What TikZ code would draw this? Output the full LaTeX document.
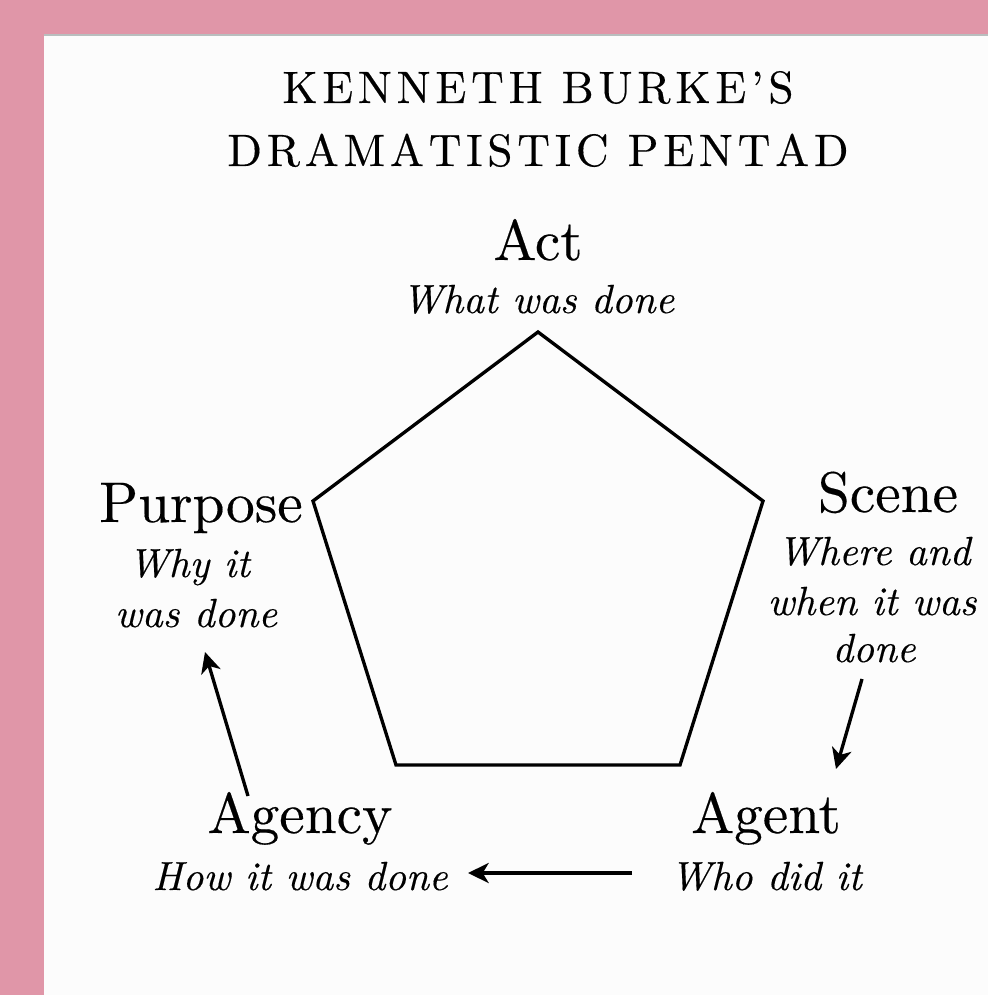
\documentclass[tikz,border=0pt]{standalone}
\usepackage{fontspec}
\setmainfont{lmroman10}[Extension=.otf,UprightFont=*-regular,ItalicFont=*-italic,BoldFont=*-bold,BoldItalicFont=*-bolditalic,FakeBold=0.3]
\usetikzlibrary{arrows.meta}
\definecolor{pinkbg}{RGB}{224,150,168}
\definecolor{panel}{RGB}{252,252,252}
\definecolor{edgegray}{RGB}{185,190,190}
\makeatletter
\newcommand\spacedword[1]{\@tfor\sw@c:=#1\do{\sw@c\kern0.105em}\kern-0.105em}
\makeatother
\begin{document}
\begin{tikzpicture}[x=0.75pt,y=-0.75pt,
  lab/.style={anchor=base,inner sep=0pt,font=\fontsize{43pt}{50pt}\selectfont},
  sub/.style={anchor=base,inner sep=0pt,font=\fontsize{30.5pt}{36pt}\selectfont\itshape},
  ttl/.style={anchor=base,inner sep=0pt,font=\fontsize{34pt}{40pt}\selectfont},
  edge/.style={line width=2.5pt,line join=miter},
  arr/.style={line width=2.5pt,-{Stealth[length=15.5pt,width=15pt,inset=4.5pt]}}]
\useasboundingbox (0,0) rectangle (988,995);
% background
\fill[pinkbg] (0,0) rectangle (988,995);
\fill[panel] (44,35) rectangle (988,995);
\draw[edgegray,line width=1.2pt] (44,35) -- (988,35);
% title
\node[ttl] (t1) at (538,103) {\spacedword{KENNETH}\hspace{0.42em}\spacedword{BURKE’S}};
\node[ttl] (t2) at (538,166) {\spacedword{DRAMATISTIC}\hspace{0.42em}\spacedword{PENTAD}};
% labels
\node[lab] (act) at (538,260) {Act};
\node[sub] (actd) at (538,313) {What was done};
\node[lab] (purpose) at (201,522) {Purpose};
\node[sub] (purd1) at (189,577) {Why it};
\node[sub] (purd2) at (196,627) {was done};
\node[lab] (scene) at (888,512) {Scene};
\node[sub] (scd1) at (874,565) {Where and};
\node[sub] (scd2) at (872,615) {when it was};
\node[sub] (scd3) at (874,662) {done};
\node[lab] (agency) at (300,833) {Agency};
\node[sub] (agcd) at (300,890) {How it was done};
\node[lab] (agent) at (766,833) {Agent};
\node[sub] (agtd) at (766,890) {Who did it};
% pentagon
\coordinate (pA) at (538,332);
\coordinate (pS) at (763,501);
\coordinate (pG) at (680,765);
\coordinate (pY) at (396,765);
\coordinate (pP) at (313,501);
\draw[edge] (pA) -- (pS) -- (pG) -- (pY) -- (pP) -- cycle;
% arrows
\coordinate (s1) at (862,679);
\coordinate (e1) at (836,769);
\coordinate (s2) at (632,873);
\coordinate (e2) at (468,873);
\coordinate (s3) at (248,796);
\coordinate (e3) at (205,652);
\draw[arr] (s1) -- (e1);
\draw[arr] (s2) -- (e2);
\draw[arr] (s3) -- (e3);
\end{tikzpicture}
\end{document}
